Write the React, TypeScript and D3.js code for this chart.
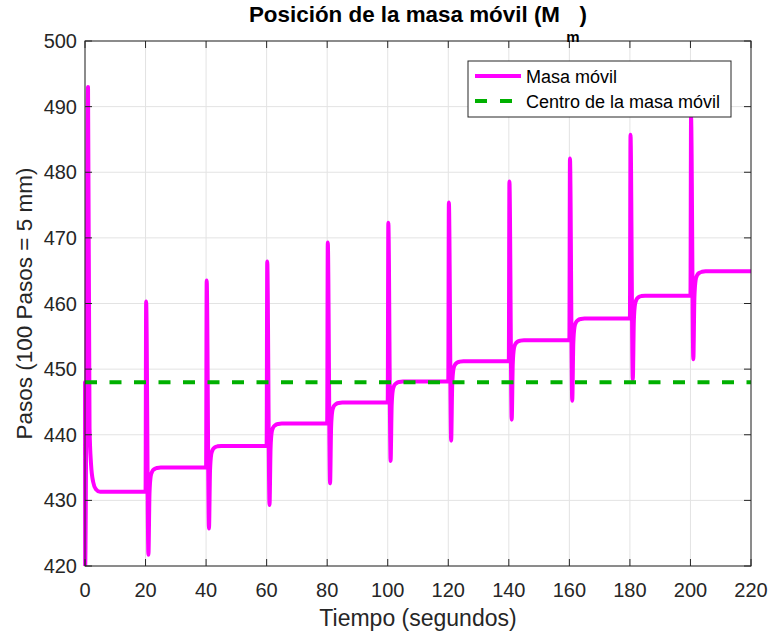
import React from "react";
import * as d3 from "d3";

// ---- data ----
const xTicks = [0, 20, 40, 60, 80, 100, 120, 140, 160, 180, 200, 220];
const yTicks = [420, 430, 440, 450, 460, 470, 480, 490, 500];

// start of the run (t = 0 .. 5 s)
const startTimes = [0, 0.05, 1.0, 1.5, 2.0, 2.7, 3.6, 5.0];
const startValues = [448, 420, 493, 441, 435.5, 432.8, 431.7, 431.3];

// later step events
const eventTimes = [20, 40, 60, 80, 100, 120, 140, 160, 180, 200];
const levelsBefore = [431.3, 435.0, 438.3, 441.7, 444.9, 448.1, 451.2, 454.4, 457.7, 461.2];
const peaks = [460.3, 463.5, 466.4, 469.3, 472.3, 475.4, 478.6, 482.1, 485.7, 488.5];
const mins = [421.7, 425.7, 429.3, 432.6, 436.0, 439.1, 442.3, 445.2, 448.4, 451.5];
const levelsAfter = [435.0, 438.3, 441.7, 444.9, 448.1, 451.2, 454.4, 457.7, 461.2, 464.9];

// recovery after each dip: seconds after the event, fraction still missing
const recOffsets = [0.95, 1.3, 1.7, 2.2, 2.9, 3.8, 5.0];
const recFractions = [1, 0.3, 0.1, 0.045, 0.018, 0.005, 0];
const peakOffset = 0.2;
const endTime = 220;
const centerValue = 448;

const W = 771, H = 636;
const M = { left: 85, right: 751, top: 41, bottom: 566 };

export default function App() {
  const x = d3.scaleLinear().domain([0, 220]).range([M.left, M.right]);
  const y = d3.scaleLinear().domain([420, 500]).range([M.bottom, M.top]);

  const pts: [number, number][] = startTimes.map((t, i) => [t, startValues[i]]);
  eventTimes.forEach((t0, i) => {
    pts.push([t0, levelsBefore[i]]);
    pts.push([t0 + peakOffset, peaks[i]]);
    recOffsets.forEach((o, j) => {
      pts.push([t0 + o, levelsAfter[i] - recFractions[j] * (levelsAfter[i] - mins[i])]);
    });
  });
  pts.push([endTime, levelsAfter[levelsAfter.length - 1]]);

  const line = d3.line<[number, number]>().x(d => x(d[0])).y(d => y(d[1])).curve(d3.curveMonotoneX);
  const font = "'Liberation Sans', Arial, Helvetica, sans-serif";
  const axisColor = "#262626";
  const tickLen = 7;

  return (
    <svg width={W} height={H} style={{ position: "absolute", left: 0, top: 0, background: "#fff" }} fontFamily={font}>
      <defs>
        <clipPath id="plotclip">
          <rect x={M.left - 3} y={M.top} width={M.right - M.left + 3} height={M.bottom - M.top} />
        </clipPath>
      </defs>
      <rect x={0} y={0} width={W} height={H} fill="#fff" />
      {/* grid */}
      {xTicks.map(t => (
        <line key={"gx" + t} x1={x(t)} x2={x(t)} y1={M.top} y2={M.bottom} stroke="#e3e3e3" strokeWidth={1} />
      ))}
      {yTicks.map(t => (
        <line key={"gy" + t} x1={M.left} x2={M.right} y1={y(t)} y2={y(t)} stroke="#e3e3e3" strokeWidth={1} />
      ))}
      {/* data */}
      <g clipPath="url(#plotclip)">
        <path d={line(pts) || ""} fill="none" stroke="#ff00ff" strokeWidth={4} strokeLinejoin="round" strokeLinecap="round" />
        <line x1={x(0)} x2={x(220)} y1={y(centerValue)} y2={y(centerValue)} stroke="#00b000" strokeWidth={4} strokeDasharray="12,12.5" />
      </g>
      {/* box and ticks */}
      <rect x={M.left} y={M.top} width={M.right - M.left} height={M.bottom - M.top} fill="none" stroke={axisColor} strokeWidth={1} />
      {xTicks.map(t => (
        <g key={"tx" + t}>
          <line x1={x(t)} x2={x(t)} y1={M.bottom} y2={M.bottom - tickLen} stroke={axisColor} />
          <line x1={x(t)} x2={x(t)} y1={M.top} y2={M.top + tickLen} stroke={axisColor} />
          <text x={x(t)} y={597} textAnchor="middle" fontSize={20} fill={axisColor}>{t}</text>
        </g>
      ))}
      {yTicks.map(t => (
        <g key={"ty" + t}>
          <line x1={M.left} x2={M.left + tickLen} y1={y(t)} y2={y(t)} stroke={axisColor} />
          <line x1={M.right} x2={M.right - tickLen} y1={y(t)} y2={y(t)} stroke={axisColor} />
          <text x={77} y={y(t) + 7} textAnchor="end" fontSize={20} fill={axisColor}>{t}</text>
        </g>
      ))}
      {/* labels */}
      <text x={(M.left + M.right) / 2} y={22} textAnchor="middle" fontSize={22.4} fontWeight="bold" fill="#000">
        Posición de la masa móvil (M <tspan dy={20} fontSize={15}>m</tspan><tspan dy={-20}>)</tspan>
      </text>
      <text x={(M.left + M.right) / 2} y={626} textAnchor="middle" fontSize={23} fill={axisColor}>Tiempo (segundos)</text>
      <text transform={`translate(32, ${(M.top + M.bottom) / 2}) rotate(-90)`} textAnchor="middle" fontSize={22.5} fill={axisColor}>
        Pasos (100 Pasos = 5 mm)
      </text>
      {/* legend */}
      <g>
        <rect x={468} y={61} width={263} height={56} fill="#fff" stroke={axisColor} strokeWidth={1} />
        <line x1={475} x2={521} y1={76} y2={76} stroke="#ff00ff" strokeWidth={4} />
        <text x={526} y={83} fontSize={18} fill="#000">Masa móvil</text>
        <line x1={475} x2={521} y1={101} y2={101} stroke="#00b000" strokeWidth={4} strokeDasharray="12,13" />
        <text x={526} y={108} fontSize={18} fill="#000">Centro de la masa móvil</text>
      </g>
    </svg>
  );
}
